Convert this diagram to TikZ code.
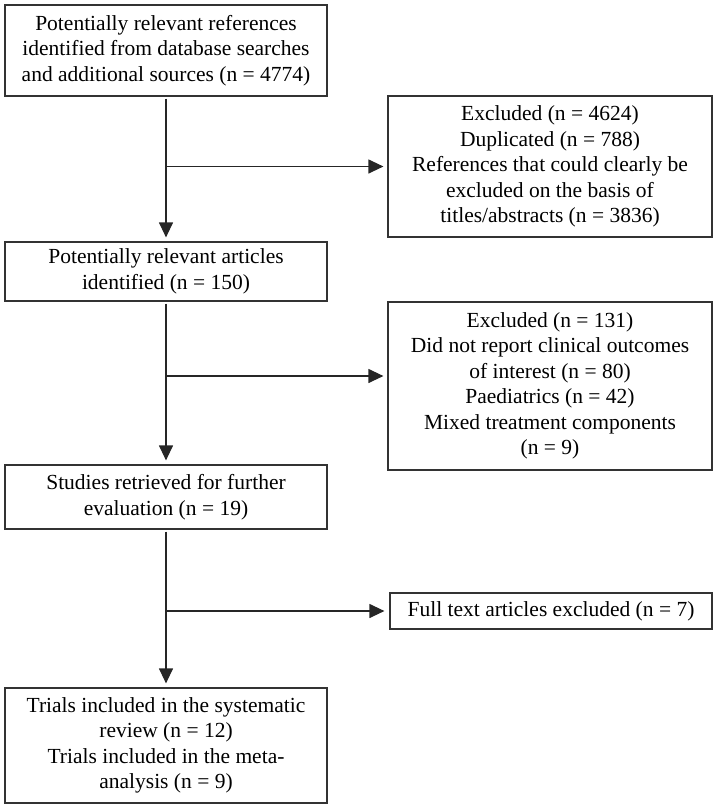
\documentclass[tikz,border=0pt]{standalone}
\usepackage{fontspec}
\setmainfont{Liberation Serif}
\usepackage{tikz}
\usetikzlibrary{arrows.meta, positioning}

\begin{document}
\begin{tikzpicture}[
  x=1pt, y=-1pt,
  box/.style={draw=black!80, line width=1.2pt, minimum width=322pt, align=center, inner sep=2pt,
    font=\fontsize{21.5}{25.5}\selectfont},
  arr/.style={-{Triangle[length=15pt, width=14pt]}, line width=1.2pt, draw=black!85}
]
\useasboundingbox (0,0) rectangle (717,809);

% main column
\node[box, minimum height=91pt] (refs) at (166,50.5) {Potentially relevant references\\identified from database searches\\and additional sources (n = 4774)};
\node[box, minimum height=59pt] (arts) at (166,271.5) {Potentially relevant articles\\identified (n = 150)};
\node[box, minimum height=64pt] (stud) at (166,497) {Studies retrieved for further\\evaluation (n = 19)};
\node[box, minimum height=115pt] (incl) at (166,745.5) {Trials included in the systematic\\review (n = 12)\\Trials included in the meta-\\analysis (n = 9)};

% exclusions
\node[box, minimum width=324pt, minimum height=141pt] (exc1) at (550,166.5) {Excluded (n = 4624)\\Duplicated (n = 788)\\References that could clearly be\\excluded on the basis of\\titles/abstracts (n = 3836)};
\node[box, minimum width=324pt, minimum height=168pt] (exc2) at (550,386) {Excluded (n = 131)\\Did not report clinical outcomes\\of interest (n = 80)\\Paediatrics (n = 42)\\Mixed treatment components\\(n = 9)};
\node[box, minimum height=36pt] (exc3) at (551,611) {Full text articles excluded (n = 7)};

% branch points
\coordinate (j1) at (166,166.5);
\coordinate (j2) at (166,376);
\coordinate (j3) at (166,611);

\draw[arr, shorten <=2pt, shorten >=4pt] (refs) -- (arts);
\draw[arr, shorten <=2pt, shorten >=4pt] (arts) -- (stud);
\draw[arr, shorten <=2pt, shorten >=4pt] (stud) -- (incl);

\draw[arr, shorten >=4pt] (j1) -- (j1 -| exc1.west);
\draw[arr, shorten >=4pt] (j2) -- (j2 -| exc2.west);
\draw[arr, shorten >=5pt] (j3) -- (j3 -| exc3.west);
\end{tikzpicture}
\end{document}
